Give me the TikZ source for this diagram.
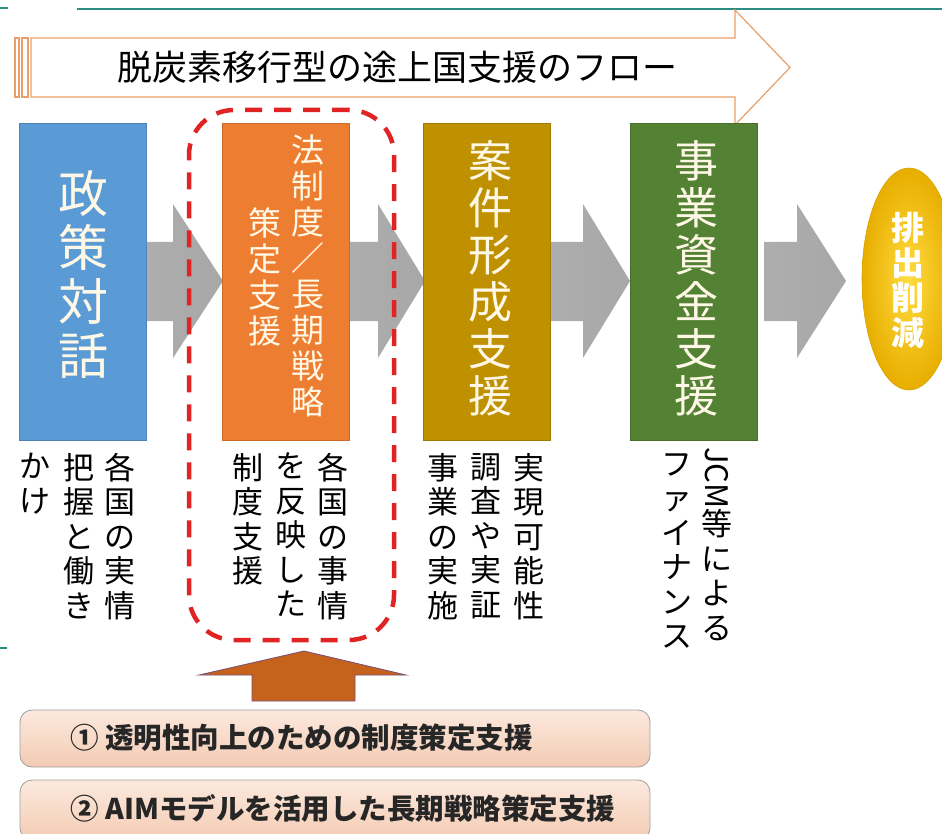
\documentclass[tikz,border=0pt]{standalone}
\usepackage{fontspec}
\setmainfont{Noto Sans CJK JP}
\usepackage{graphicx}
\usetikzlibrary{shapes.geometric}
\definecolor{tealline}{HTML}{2A8C82}
\definecolor{cblue}{HTML}{5B9BD5}
\definecolor{corange}{HTML}{ED7D31}
\definecolor{cgold}{HTML}{BF9000}
\definecolor{cgreen}{HTML}{548235}
\definecolor{arrline}{HTML}{E8A068}
\definecolor{reddash}{HTML}{E02424}
\definecolor{uparrow}{HTML}{C5621C}
\definecolor{cream}{HTML}{FFF8E6}
\definecolor{peachtop}{HTML}{FCE9DE}
\definecolor{peachbot}{HTML}{F3CBB3}
\definecolor{goldin}{HTML}{FFDC40}
\definecolor{goldout}{HTML}{E8AE00}
\definecolor{goldedge}{HTML}{D8A200}
\definecolor{garrA}{HTML}{D8D8D8}
\definecolor{garrB}{HTML}{AEAEAE}
\definecolor{garrC}{HTML}{A4A4A4}
\pgfdeclarehorizontalshading{grayarrow}{100bp}{color(0bp)=(garrA); color(22bp)=(garrB); color(100bp)=(garrC)}
\newcommand{\myfs}[2]{\fontsize{#1}{#2}\selectfont}
\tikzset{
  stage/.style={draw=#1!85!black, line width=0.5pt, fill=#1, minimum width=127pt, minimum height=317pt, inner sep=0pt},
  vtext/.style={align=center, inner sep=0pt, anchor=north},
  boxtext/.style={vtext, text=cream},
  below text/.style={vtext, text=black, font=\myfs{31}{34.5}},
  pbox/.style={draw=gray!75, line width=0.8pt, rounded corners=12pt, top color=peachtop, bottom color=peachbot, minimum width=630pt, inner sep=0pt},
  ptext/.style={anchor=west, inner sep=0pt, font=\bfseries\myfs{28.5}{32}, text=black!85},
  outarrow/.style={draw=arrline, line width=1.2pt, fill=white},
}
\newcommand{\grayarr}[3]{\shade[shading=grayarrow] (#1,242) -- (#2,242) -- (#2,204) -- (#3,281) -- (#2,358) -- (#2,321) -- (#1,321) -- cycle;}
\begin{document}
\begin{tikzpicture}[x=1pt,y=-1pt]
\useasboundingbox (0,0) rectangle (942,834);
\fill[white] (0,0) rectangle (942,834);
% teal rules
\draw[tealline, line width=2.5pt] (77,9) -- (942,9);
\draw[tealline, line width=2.5pt] (0,8) -- (8,8);
\draw[tealline, line width=2pt] (0,648) -- (7,648);
% top outline arrow
\draw[outarrow] (15,38) rectangle (19,97);
\draw[outarrow] (22,38) rectangle (28,97);
\draw[outarrow] (31,38) -- (735,38) -- (735,10) -- (790,67.5) -- (735,125) -- (735,97) -- (31,97) -- cycle;
\node[inner sep=0pt, font=\myfs{35}{40}] (title) at (397,67) {脱炭素移行型の途上国支援のフロー};
% gray arrows
\grayarr{146}{173}{223}
\grayarr{348}{378}{425}
\grayarr{550}{583}{630}
\grayarr{764}{797}{846}
% stages
\node[stage=cblue] (s1) at (82.5,281.5) {};
\node[stage=corange] (s2) at (285.5,281.5) {};
\node[stage=cgold] (s3) at (487,281.5) {};
\node[stage=cgreen] (s4) at (693.5,281.5) {};
\node[boxtext, font=\myfs{50}{54}] (t1) at (83,170) {政\\策\\対\\話};
\node[boxtext, font=\myfs{33}{36}] (t2a) at (308,135) {法\\制\\度\\／\\長\\期\\戦\\略};
\node[boxtext, font=\myfs{33}{36}] (t2b) at (265,207) {策\\定\\支\\援};
\node[boxtext, font=\myfs{44}{47}] (t3) at (490,140) {案\\件\\形\\成\\支\\援};
\node[boxtext, font=\myfs{44}{47}] (t4) at (696,140) {事\\業\\資\\金\\支\\援};
% goal ellipse
\node[ellipse, minimum width=94pt, minimum height=222pt, inner sep=0pt, inner color=goldin, outer color=goldout, draw=goldedge, line width=0.6pt] (goal) at (909,279) {};
\node[vtext, text=white, font=\bfseries\myfs{33}{35}] (gt) at (908,212) {排\\出\\削\\減};
% texts below
\node[below text] (b1a) at (120,453) {各\\国\\の\\実\\情};
\node[below text] (b1b) at (79,453) {把\\握\\と\\働\\き};
\node[below text] (b1c) at (35,453) {か\\け};
\node[below text] (b2a) at (333,453) {各\\国\\の\\事\\情};
\node[below text] (b2b) at (291,453) {を\\反\\映\\し\\た};
\node[below text] (b2c) at (248,453) {制\\度\\支\\援};
\node[below text] (b3a) at (529,453) {実\\現\\可\\能\\性};
\node[below text] (b3b) at (486,453) {調\\査\\や\\実\\証};
\node[below text] (b3c) at (443,453) {事\\業\\の\\実\\施};
\node[below text] (b4a) at (717,447) {\rotatebox{-90}{JCM}\\等\\に\\よ\\る};
\node[below text] (b4b) at (677,453) {フ\\ァ\\イ\\ナ\\ン\\ス};
% red dashed focus frame
\node[draw=reddash, line width=4.5pt, dash pattern=on 17pt off 12pt, rounded corners=45pt, minimum width=205pt, minimum height=530pt, inner sep=0pt] (focus) at (291.5,375) {};
% up arrow
\draw[fill=uparrow, draw=uparrow!60!blue!70!gray, line width=0.8pt] (304,651) -- (406,675) -- (355,675) -- (355,701) -- (252,701) -- (252,675) -- (199,675) -- cycle;
% bottom boxes
\node[pbox, minimum height=57pt] (p1) at (335,738.5) {};
\node[pbox, minimum height=60pt] (p2) at (335,810) {};
\node[ptext] (pt1) at (70,738) {① 透明性向上のための制度策定支援};
\node[ptext] (pt2) at (70,808) {② AIMモデルを活用した長期戦略策定支援};
\end{tikzpicture}
\end{document}
